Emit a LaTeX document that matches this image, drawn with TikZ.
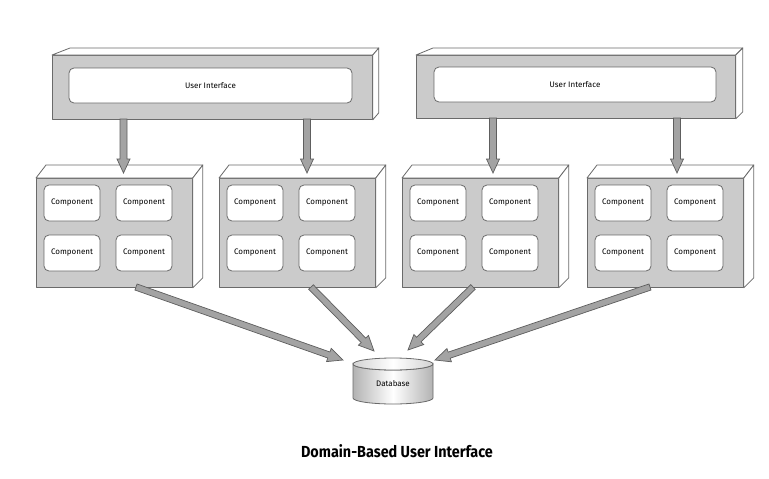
\documentclass[tikz,border=0pt]{standalone}
\usepackage{fontspec}
\setmainfont{Fira Sans}
\usetikzlibrary{calc}
\definecolor{facegray}{HTML}{CBCBCB}
\definecolor{edgegray}{HTML}{6A6A6A}
\definecolor{arrowgray}{HTML}{A3A3A3}
\definecolor{arrowedge}{HTML}{5E5E5E}
\tikzset{
  face/.style={fill=facegray, draw=edgegray, line width=0.8pt, line join=round, inner sep=0pt, anchor=north west},
  side/.style={fill=white, draw=edgegray, line width=0.8pt, line join=round},
  innerbox/.style={draw=edgegray, fill=white, rounded corners=5pt, line width=0.8pt, inner sep=0pt},
  uitext/.style={innerbox, font=\fontsize{8}{9.5}\selectfont},
  comp/.style={innerbox, minimum width=56pt, minimum height=36pt, font=\fontsize{8}{9.5}\selectfont},
  fatarrow/.style={fill=arrowgray, draw=arrowedge, line width=0.7pt, line join=miter},
}
\newcommand\fatarr[5]{%
  \coordinate (fah) at ($(#2)!#5!(#1)$);
  \draw[fatarrow] ($(#1)!#3!90:(#2)$) -- ($(fah)!#3!90:(#2)$) -- ($(fah)!#4!90:(#2)$)
    -- (#2) -- ($(fah)!#4!-90:(#2)$) -- ($(fah)!#3!-90:(#2)$) -- ($(#1)!#3!-90:(#2)$) -- cycle;}
\begin{document}
\begin{tikzpicture}[x=1pt,y=-1pt]
\useasboundingbox[fill=white] (0,0) rectangle (769,479);
% UI boxes
\node[face, minimum width=320pt, minimum height=64pt] (ui1) at (52,55) {};
\draw[side] (ui1.north west) -- ++(18,-7) -- ($(ui1.north east)+(6,-7)$) -- (ui1.north east) -- cycle;
\draw[side] (ui1.north east) -- ++(6,-7) -- ($(ui1.south east)+(6,-7)$) -- (ui1.south east) -- cycle;
\node[uitext, minimum width=283pt, minimum height=35pt] (uin1) at (210.5,85.5) {User Interface};
\node[face, minimum width=319pt, minimum height=63pt] (ui2) at (416,55) {};
\draw[side] (ui2.north west) -- ++(17,-7) -- ($(ui2.north east)+(7,-7)$) -- (ui2.north east) -- cycle;
\draw[side] (ui2.north east) -- ++(7,-7) -- ($(ui2.south east)+(7,-7)$) -- (ui2.south east) -- cycle;
\node[uitext, minimum width=282pt, minimum height=35pt] (uin2) at (575,84.5) {User Interface};
% containers
\foreach \i/\l in {1/36,2/219,3/402,4/587}{
  \node[face, minimum width=156pt, minimum height=109pt] (c\i) at (\l,178) {};
  \draw[side] (c\i.north west) -- ++(10,-13) -- ($(c\i.north east)+(10,-13)$) -- (c\i.north east) -- cycle;
  \draw[side] (c\i.north east) -- ++(10,-13) -- ($(c\i.south east)+(10,-10)$) -- (c\i.south east) -- cycle;
  \node[comp] (c\i-1) at (\l+36,203) {Component};
  \node[comp] (c\i-2) at (\l+108,203) {Component};
  \node[comp] (c\i-3) at (\l+36,253) {Component};
  \node[comp] (c\i-4) at (\l+108,253) {Component};
}
% vertical arrows
\coordinate (v1s) at (123.5,119); \coordinate (v1e) at (123.5,173);
\coordinate (v2s) at (307,119);   \coordinate (v2e) at (307,173);
\coordinate (v3s) at (493,118);   \coordinate (v3e) at (493,173);
\coordinate (v4s) at (677,118);   \coordinate (v4e) at (677,173);
\fatarr{v1s}{v1e}{3.5pt}{6.5pt}{14pt}
\fatarr{v2s}{v2e}{3.5pt}{6.5pt}{14pt}
\fatarr{v3s}{v3e}{3.5pt}{6.5pt}{14pt}
\fatarr{v4s}{v4e}{3.5pt}{6.5pt}{14pt}
% database
\shade[left color=gray!60, right color=gray!60, middle color=white, draw=edgegray, line width=0.8pt]
  (353,364) -- (353,398) arc[start angle=180, end angle=0, x radius=40, y radius=6]
  -- (433,364) arc[start angle=0, end angle=180, x radius=40, y radius=6] -- cycle;
\shade[left color=gray!35, right color=gray!35, middle color=white, draw=edgegray, line width=0.8pt]
  (393,364) ellipse [x radius=40, y radius=6];
\node[font=\fontsize{8}{9.5}\selectfont] (db) at (393,384) {Database};
% arrows to database
\coordinate (d1s) at (136,287); \coordinate (d1e) at (343,360);
\coordinate (d2s) at (311,287); \coordinate (d2e) at (374,351);
\coordinate (d3s) at (473,287); \coordinate (d3e) at (408,350);
\coordinate (d4s) at (650,287); \coordinate (d4e) at (435,360);
\fatarr{d1s}{d1e}{3.2pt}{7pt}{15pt}
\fatarr{d2s}{d2e}{3.2pt}{7pt}{15pt}
\fatarr{d3s}{d3e}{3.2pt}{7pt}{15pt}
\fatarr{d4s}{d4e}{3.2pt}{7pt}{15pt}
% caption
\node[font=\fontsize{16}{18}\selectfont\bfseries] (cap) at (397,451) {\scalebox{0.9}[1]{Domain-Based User Interface}};
\end{tikzpicture}
\end{document}
